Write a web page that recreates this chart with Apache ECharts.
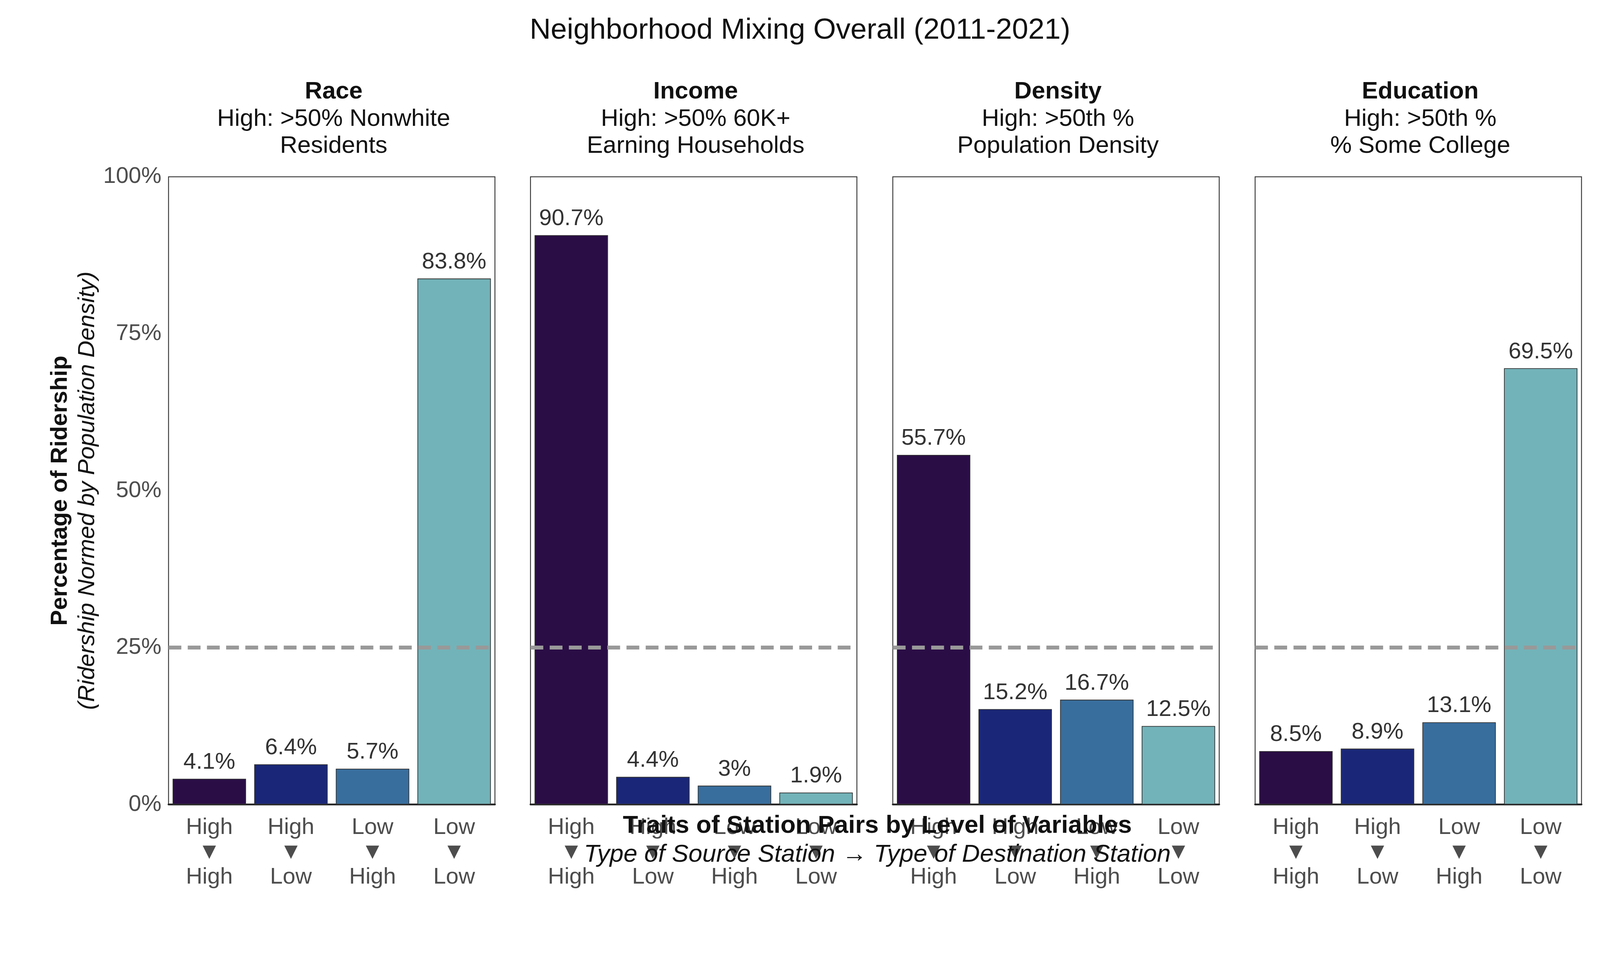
<!DOCTYPE html>
<html>
<head>
<meta charset="utf-8">
<script src="https://cdn.jsdelivr.net/npm/echarts@6/dist/echarts.min.js"></script>
<style>html,body{margin:0;padding:0;background:#fff;overflow:hidden}#main{width:100vw;height:100vh}</style>
</head>
<body>
<div id="main"></div>
<script>
// data
const categories = ['High\n▼\nHigh', 'High\n▼\nLow', 'Low\n▼\nHigh', 'Low\n▼\nLow'];
const panelNames = ['Race', 'Income', 'Density', 'Education'];
const panelSubs = [
    'High: >50% Nonwhite\nResidents',
    'High: >50% 60K+\nEarning Households',
    'High: >50th %\nPopulation Density',
    'High: >50th %\n% Some College'
];
const raceValues = [4.1, 6.4, 5.7, 83.8];
const incomeValues = [90.7, 4.4, 3, 1.9];
const densityValues = [55.7, 15.2, 16.7, 12.5];
const educationValues = [8.5, 8.9, 13.1, 69.5];
const yTicks = [0, 25, 50, 75, 100];
const barColors = ['#2a0d45', '#1a2778', '#386e9e', '#72b3b9'];
const allValues = [raceValues, incomeValues, densityValues, educationValues];

const el = document.getElementById('main');
const chart = echarts.init(el);
// everything laid out for a 4500 wide canvas, scaled to the real one
const k = el.clientWidth / 4500;
const s = v => v * k;
const lefts = [474, 1492, 2511, 3530];
const W = 918, TOP = 497, BOT = 485;

var grids = [], xAxes = [], yAxes = [], series = [], titles = [];
for (let i = 0; i < 4; i++) {
    grids.push({left: s(lefts[i]), width: s(W), top: s(TOP), bottom: s(BOT), show: true, borderColor: '#333', borderWidth: s(2.5)});
    xAxes.push({
        type: 'category', gridIndex: i, data: categories,
        axisLine: {lineStyle: {color: '#222', width: s(5)}},
        axisTick: {show: false},
        axisLabel: {fontSize: s(64), color: '#4d4d4d', lineHeight: s(70), margin: s(30), fontFamily: 'Arial'}
    });
    yAxes.push({
        type: 'value', gridIndex: i, min: 0, max: 100, interval: 25,
        splitLine: {show: false}, axisTick: {show: false}, axisLine: {show: false},
        axisLabel: {show: i === 0, fontSize: s(64), color: '#4d4d4d', margin: s(20), fontFamily: 'Arial',
            formatter: v => v + '%'},
        name: i === 0 ? '{b|Percentage of Ridership}\n{it|(Ridership Normed by Population Density)}' : '',
        nameLocation: 'middle', nameGap: s(190), nameRotate: 90,
        nameTextStyle: {rich: {
            b: {fontSize: s(66), fontWeight: 'bold', color: '#111', fontFamily: 'Arial', lineHeight: s(76)},
            it: {fontSize: s(66), fontStyle: 'italic', color: '#111', fontFamily: 'Arial', lineHeight: s(76)}
        }}
    });
    series.push({
        type: 'bar', xAxisIndex: i, yAxisIndex: i, barCategoryGap: '10%',
        data: allValues[i].map((v, j) => ({value: v, itemStyle: {color: barColors[j]}})),
        itemStyle: {borderColor: '#333', borderWidth: s(2)},
        label: {show: true, position: 'top', distance: s(14), fontSize: s(64), color: '#333', fontFamily: 'Arial',
            formatter: p => p.value + '%'},
        markLine: {
            silent: true, symbol: 'none', label: {show: false},
            lineStyle: {color: '#999', type: [s(36), s(18)], width: s(11)},
            data: [{yAxis: 25}]
        },
        z: 3
    });
    titles.push({
        text: '{b|' + panelNames[i] + '}\n{n|' + panelSubs[i].split('\n').join('}\n{n|') + '}',
        left: s(lefts[i] + W / 2), top: s(215), textAlign: 'center',
        textStyle: {fontWeight: 'normal', rich: {
            b: {fontSize: s(68), fontWeight: 'bold', color: '#111', fontFamily: 'Arial', lineHeight: s(76), align: 'center'},
            n: {fontSize: s(68), fontWeight: 'normal', color: '#111', fontFamily: 'Arial', lineHeight: s(76), align: 'center'}
        }}
    });
}
titles.push({
    text: 'Neighborhood Mixing Overall (2011-2021)', left: 'center', top: s(40),
    textStyle: {fontSize: s(82), fontWeight: 'normal', color: '#111', fontFamily: 'Arial'}
});
titles.push({
    text: '{b|Traits of Station Pairs by Level of Variables}\n{it|Type of Source Station → Type of Destination Station}',
    left: s(2462), top: s(2275), textAlign: 'center',
    textStyle: {fontWeight: 'normal', rich: {
        b: {fontSize: s(70), fontWeight: 'bold', color: '#111', fontFamily: 'Arial', lineHeight: s(82), align: 'center'},
        it: {fontSize: s(70), fontStyle: 'italic', fontWeight: 'normal', color: '#111', fontFamily: 'Arial', lineHeight: s(82), align: 'center'}
    }}
});

chart.setOption({
    backgroundColor: '#fff',
    animation: false,
    title: titles,
    grid: grids,
    xAxis: xAxes,
    yAxis: yAxes,
    series: series
});
</script>
</body>
</html>
